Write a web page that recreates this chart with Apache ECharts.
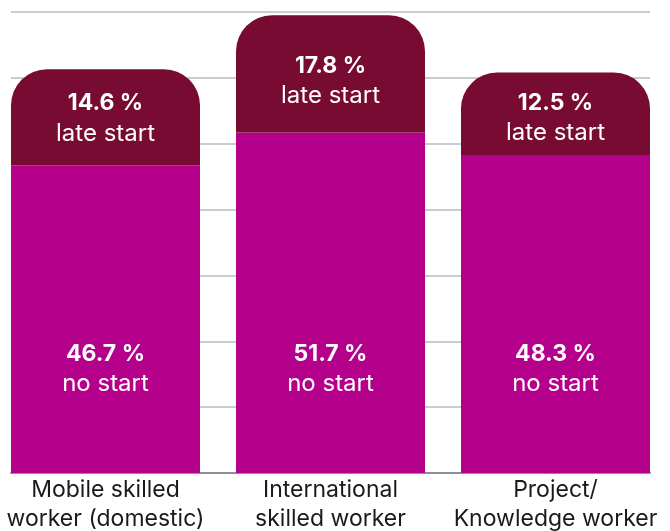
<!DOCTYPE html>
<html>
<head>
<meta charset="utf-8">
<script src="https://cdn.jsdelivr.net/npm/echarts@6/dist/echarts.min.js"></script>
<style>
html,body{margin:0;padding:0;background:#fff;}
#chart{width:670px;height:531px;}
</style>
</head>
<body>
<div id="chart"></div>
<script>
const categories = ['Mobile skilled\nworker (domestic)', 'International\nskilled worker', 'Project/\nKnowledge worker'];
const noStart = [46.7, 51.7, 48.3];
const lateStart = [14.6, 17.8, 12.5];
const yTicks = [0, 10, 20, 30, 40, 50, 60, 70];

const lateOffsets = [1, 7, 4.5];
const FONT = 'Inter, "Noto Sans", sans-serif';
const richStyles = {
  v: { fontFamily: FONT, fontSize: 23, fontWeight: 'bold', color: '#fff', lineHeight: 30 },
  t: { fontFamily: FONT, fontSize: 24, color: '#fff', lineHeight: 30 }
};

const chart = echarts.init(document.getElementById('chart'), null, { renderer: 'canvas' });
chart.setOption({
  animation: false,
  grid: [
    { left: 11, width: 639, top: 12, bottom: 58, outerBoundsMode: 'none', containLabel: false },
    { left: -7, width: 675, top: 12, bottom: 58, outerBoundsMode: 'none', containLabel: false }
  ],
  xAxis: [
    { gridIndex: 0, type: 'category', data: [''], axisTick: { show: false }, axisLabel: { show: false },
      axisLine: { show: true, lineStyle: { color: '#8c9098', width: 2 } } },
    { gridIndex: 1, type: 'category', data: categories, axisTick: { show: false }, axisLine: { show: false },
      axisLabel: { fontFamily: FONT, fontSize: 23, color: '#1a1a1a', lineHeight: 29, margin: 3, interval: 0 } }
  ],
  yAxis: [
    { gridIndex: 0, type: 'value', min: yTicks[0], max: yTicks[yTicks.length - 1], interval: 10,
      axisLabel: { show: false }, axisLine: { show: false }, axisTick: { show: false },
      splitLine: { show: true, lineStyle: { color: '#c9ccd3', width: 2 } } },
    { gridIndex: 1, type: 'value', min: yTicks[0], max: yTicks[yTicks.length - 1], interval: 10, show: false,
      splitLine: { show: false } }
  ],
  series: [
    {
      type: 'bar', xAxisIndex: 1, yAxisIndex: 1, stack: 'total', barWidth: 189,
      data: noStart,
      itemStyle: { color: '#b5008c' },
      label: {
        show: true, position: 'insideBottom', distance: 74,
        formatter: p => '{v|' + p.value.toFixed(1) + ' %}\n{t|no start}',
        rich: richStyles
      }
    },
    {
      type: 'bar', xAxisIndex: 1, yAxisIndex: 1, stack: 'total', barWidth: 189,
      data: lateStart.map((v, i) => ({ value: v, label: { offset: [0, lateOffsets[i]] } })),
      itemStyle: { color: '#770b31', borderRadius: [36, 36, 0, 0] },
      label: {
        show: true, position: 'inside',
        formatter: p => '{v|' + p.value.toFixed(1) + ' %}\n{t|late start}',
        rich: richStyles
      }
    }
  ]
});
</script>
</body>
</html>
